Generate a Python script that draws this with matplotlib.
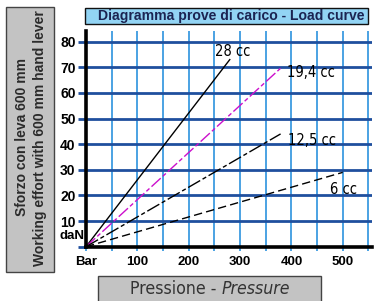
import matplotlib
matplotlib.use("Agg")
import matplotlib.pyplot as plt
from matplotlib import font_manager
from matplotlib.patches import Rectangle

# data: each load curve goes from origin to its end point
curve_names = ["28 cc", "19,4 cc", "12,5 cc", "6 cc"]
curve_x = [[0, 280], [0, 381], [0, 379], [0, 500]]   # bar
curve_y = [[0, 73], [0, 70], [0, 44], [0, 29]]       # daN
label_x = [251, 391, 394, 475]
label_y = [76, 68, 41.6, 22.4]

x_grid = list(range(0, 551, 50))
x_labels = ["Bar", "", "100", "", "200", "", "300", "", "400", "", "500", ""]
y_grid = list(range(0, 81, 10))
y_labels = ["", "10", "20", "30", "40", "50", "60", "70", "80"]

W, H = 374, 301
names = {f.name for f in font_manager.fontManager.ttflist}
sans = "Liberation Sans" if "Liberation Sans" in names else "DejaVu Sans"
narrow = "Liberation Sans Narrow" if "Liberation Sans Narrow" in names else "DejaVu Sans"

fig = plt.figure(figsize=(W / 100, H / 100), dpi=100)
fig.patch.set_facecolor("white")


def box(x0, y0, x1, y1, fc, ec):
    fig.add_artist(Rectangle((x0 / W, 1 - y1 / H), (x1 - x0) / W, (y1 - y0) / H,
                             transform=fig.transFigure, fc=fc, ec=ec, lw=1))


box(6, 7, 54, 272, "#c3c3c3", "#444444")
box(85, 8, 368, 24, "#92d4f4", "#111111")
box(98, 276, 321, 302, "#c3c3c3", "#444444")

fig.text(231 / W, 1 - 16 / H, "Diagramma prove di carico - Load curve", ha="center", va="center",
         fontsize=10.1, fontweight="bold", family=sans, color="#1b2452")
fig.text(22 / W, 1 - 137 / H, "Sforzo con leva 600 mm", rotation=90, ha="center", va="center",
         fontsize=10, fontweight="bold", family=sans, color="#2b2b2b")
fig.text(40 / W, 1 - 138 / H, "Working effort with 600 mm hand lever", rotation=90, ha="center",
         va="center", fontsize=10, fontweight="bold", family=sans, color="#2b2b2b")
t1 = fig.text(130 / W, 1 - 289 / H, "Pressione - ", ha="left", va="center",
              fontsize=12.7, family=narrow, stretch="condensed", color="#333333")
fig.canvas.draw()
bb = t1.get_window_extent()
fig.text(bb.x1 / W, 1 - 289 / H, "Pressure", ha="left", va="center", fontsize=12.7,
         family=narrow, stretch="condensed", style="italic", color="#333333")

ax = fig.add_axes([86 / W, 54.3 / H, (372 - 86) / W, (246.7 - 31.4) / H])
ax.set_xlim(0, 557)
ax.set_ylim(0, 84)
ax.set_facecolor("white")

for xv in x_grid[1:]:
    ax.axvline(xv, color="#3d9be0", lw=1.3, zorder=1)
for yv in y_grid[1:]:
    ax.axhline(yv, color="#1f4f9e", lw=2, zorder=2)

styles = [dict(color="black", ls="-"),
          dict(color="#cc10cc", dashes=(9, 2, 3, 2)),
          dict(color="black", dashes=(10, 2, 3, 2)),
          dict(color="black", dashes=(6, 3))]
for xs, ys, st in zip(curve_x, curve_y, styles):
    ax.plot(xs, ys, lw=1.0, zorder=4, **st)
for name, lx, ly in zip(curve_names, label_x, label_y):
    ax.text(lx, ly, name, ha="left", va="center", fontsize=10.5, family=narrow,
            stretch="condensed", color="black", zorder=5)

ax.set_xticks(x_grid)
ax.set_xticklabels(x_labels)
ax.set_yticks(y_grid)
ax.set_yticklabels(y_labels)
ax.tick_params(axis="y", length=6, width=2, color="#1f4f9e", pad=1.5, labelsize=10)
ax.tick_params(axis="x", length=3, width=1.3, color="#3d9be0", pad=4, labelsize=9.5)
for lab in ax.get_xticklabels() + ax.get_yticklabels():
    lab.set_fontweight("bold")
    lab.set_family(sans)
ax.text(-3, 4.2, "daN", ha="right", va="center", fontsize=9.5, fontweight="bold", family=sans)

for side in ["top", "right"]:
    ax.spines[side].set_visible(False)
for side in ["left", "bottom"]:
    ax.spines[side].set_linewidth(2.6)
    ax.spines[side].set_color("black")
    ax.spines[side].set_zorder(6)

fig.savefig("out.png", dpi=100)
